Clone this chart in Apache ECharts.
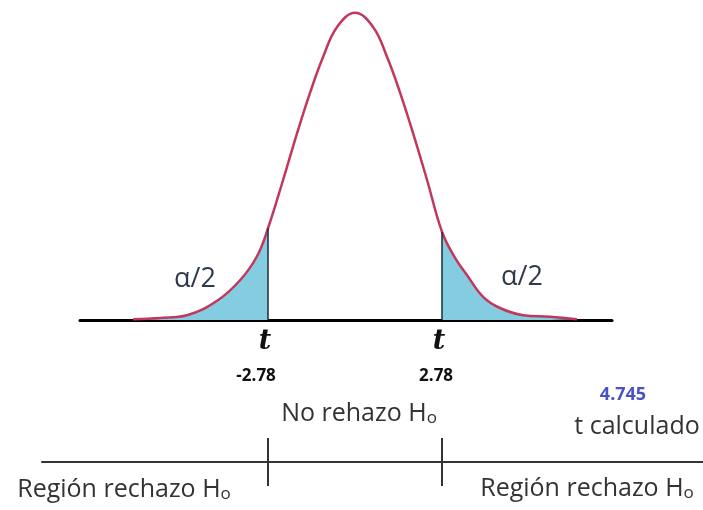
<!DOCTYPE html>
<html>
<head>
<meta charset="utf-8">
<script src="https://cdn.jsdelivr.net/npm/echarts@6/dist/echarts.min.js"></script>
<style>
  html, body { margin: 0; padding: 0; background: #fff; }
  #chart { width: 703px; height: 510px; }
</style>
</head>
<body>
<div id="chart"></div>
<script>
// curva (t, densidad)
var curveT = [-7.09, -6.23, -5.37, -4.41, -3.67, -3.13, -2.78, -2.30, -1.85, -1.44, -1.02, -0.58, 0,
  0.58, 1.02, 1.44, 1.85, 2.30, 2.78, 3.19, 3.58, 4.09, 4.63, 5.37, 6.23, 7.09]
var curveY = [0.001, 0.0025, 0.006, 0.024, 0.05, 0.08, 0.115, 0.175, 0.234, 0.284, 0.329, 0.366, 0.384,
  0.366, 0.329, 0.284, 0.234, 0.175, 0.11, 0.078, 0.056, 0.029, 0.015, 0.006, 0.004, 0.001]
// valores críticos
var tCrit = [-2.78, 2.78]
var tCritLabels = ['-2.78', '2.78']
var tCalc = '4.745'

var chart = echarts.init(document.getElementById('chart'))

var points = curveT.map(function (t, i) { return [t, curveY[i]] })
var leftTail = points.filter(function (p) { return p[0] <= tCrit[0] })
var rightTail = points.filter(function (p) { return p[0] >= tCrit[1] })
var critHeight = tCrit.map(function (t) { return curveY[curveT.indexOf(t)] })

var smooth = 0.4
var textColor = '#333'

var option = {
  animation: false,
  grid: [
    { left: 80, top: 0, width: 532, height: 320 },
    { left: 42, right: 0, top: 438, height: 48 }
  ],
  xAxis: [
    {
      gridIndex: 0, type: 'value', min: -8.79, max: 8.21,
      axisLine: { show: true, onZero: false, lineStyle: { color: '#000', width: 3 } },
      axisTick: { show: false }, axisLabel: { show: false }, splitLine: { show: false }
    },
    {
      gridIndex: 1, type: 'value', min: -10.0, max: 11.12,
      axisLine: { show: true, onZero: true, lineStyle: { color: '#333', width: 2 } },
      axisTick: { show: false }, axisLabel: { show: false }, splitLine: { show: false }
    }
  ],
  yAxis: [
    { gridIndex: 0, type: 'value', min: 0, max: 0.4, show: false },
    { gridIndex: 1, type: 'value', min: -1, max: 1, show: false }
  ],
  series: [
    {
      name: 'colaIzq', type: 'line', data: leftTail, smooth: smooth, symbol: 'none',
      lineStyle: { width: 0 }, areaStyle: { color: '#84cde1', opacity: 1 }
    },
    {
      name: 'colaDer', type: 'line', data: rightTail, smooth: smooth, symbol: 'none',
      lineStyle: { width: 0 }, areaStyle: { color: '#84cde1', opacity: 1 }
    },
    {
      name: 'curva', type: 'line', data: points, smooth: smooth, symbol: 'none', clip: false,
      lineStyle: { color: '#c2385d', width: 2.5 },
      markLine: {
        silent: true, symbol: 'none', label: { show: false },
        lineStyle: { color: '#1c2a38', width: 1.5, type: 'solid' },
        data: tCrit.map(function (t, i) {
          return [{ coord: [t, 0] }, { coord: [t, critHeight[i]] }]
        })
      }
    },
    {
      // recta de decisión abajo
      name: 'regiones', type: 'scatter', xAxisIndex: 1, yAxisIndex: 1,
      data: tCrit.map(function (t) { return [t, 0] }), symbolSize: 0,
      markLine: {
        silent: true, symbol: 'none', label: { show: false },
        lineStyle: { color: '#333', width: 2, type: 'solid' },
        data: tCrit.map(function (t) {
          return [{ coord: [t, -1] }, { coord: [t, 1] }]
        })
      }
    }
  ]
}
chart.setOption(option)

// textos
function txt(x, y, text, style) {
  return {
    type: 'text', x: x, y: y,
    style: Object.assign({ text: text, fill: textColor, align: 'center', verticalAlign: 'middle',
      fontFamily: 'Open Sans', fontSize: 25 }, style)
  }
}
var hStyle = {
  rich: { s: { fontSize: 17, fontFamily: 'Open Sans', fill: textColor, verticalAlign: 'bottom', padding: [8, 0, 0, 0] } }
}
var els = [
  txt(195, 279, 'α/2', { fill: '#2f3b4c', fontSize: 27 }),
  txt(522, 277, 'α/2', { fill: '#2f3b4c', fontSize: 27 }),
  txt(359, 414, 'No rehazo H{s|o}', hStyle),
  txt(623, 395, tCalc, { fill: '#4a52c4', fontSize: 18, fontWeight: 'bold' }),
  txt(637, 427, 't calculado', {}),
  txt(124, 490, 'Región rechazo H{s|o}', hStyle),
  txt(587, 489, 'Región rechazo H{s|o}', hStyle)
]
tCrit.forEach(function (t, i) {
  var px = chart.convertToPixel({ xAxisIndex: 0 }, t)
  els.push(txt(px - 3, 342, 't', { fill: '#111', fontSize: 27, fontWeight: 'bold', fontStyle: 'italic', fontFamily: 'DejaVu Serif' }))
  els.push(txt(px - 12 + i * 6, 376, tCritLabels[i], { fill: '#111', fontSize: 17, fontWeight: 'bold' }))
})
chart.setOption({ graphic: { elements: els } })
</script>
</body>
</html>
